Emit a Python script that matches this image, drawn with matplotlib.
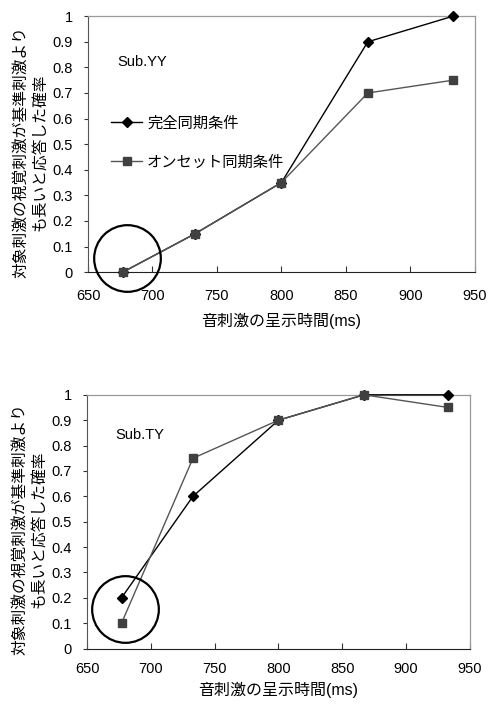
import matplotlib
matplotlib.use("Agg")
import matplotlib.pyplot as plt

plt.rcParams['font.family'] = ['Liberation Sans', 'Noto Sans CJK JP', 'DejaVu Sans']

# stimulus duration (ms)
durations = [677, 733, 800, 867, 933]

# Sub.YY
yy_full = [0.0, 0.15, 0.35, 0.9, 1.0]
yy_onset = [0.0, 0.15, 0.35, 0.7, 0.75]

# Sub.TY
ty_full = [0.2, 0.6, 0.9, 1.0, 1.0]
ty_onset = [0.1, 0.75, 0.9, 1.0, 0.95]

labels = ["完全同期条件", "オンセット同期条件"]
subjects = ["Sub.YY", "Sub.TY"]
subject_pos = [(0.077, 0.82), (0.075, 0.843)]
circle_centers = [(680, 0.055), (680, 0.157)]

xticks = [650, 700, 750, 800, 850, 900, 950]
yticks = [0, 0.1, 0.2, 0.3, 0.4, 0.5, 0.6, 0.7, 0.8, 0.9, 1]
xlab = "音刺激の呈示時間(ms)"
ylab = "対象刺激の視覚刺激が基準刺激より\nも長いと応答した確率"

fig = plt.figure(figsize=(4.89, 7.05), dpi=100)
ax1 = fig.add_axes([0.180, 0.614, 0.791, 0.363])
ax2 = fig.add_axes([0.178, 0.080, 0.783, 0.360])

data = [(ax1, yy_full, yy_onset), (ax2, ty_full, ty_onset)]
for i, (ax, full, onset) in enumerate(data):
    ax.plot(durations, full, color="black", lw=1.0, marker="D", ms=5,
            mfc="black", mec="black", label=labels[0], clip_on=False, zorder=3)
    ax.plot(durations, onset, color="#555555", lw=1.0, marker="s", ms=5.5,
            mfc="#404040", mec="#404040", label=labels[1], clip_on=False, zorder=4)
    ax.plot(*circle_centers[i], marker="o", ms=48, mfc="none", mec="black",
            mew=1.6, clip_on=False, zorder=5)

    ax.set_xlim(650, 950)
    ax.set_ylim(0, 1)
    ax.set_xticks(xticks)
    ax.set_xticklabels([str(v) for v in xticks])
    ax.set_yticks(yticks)
    ax.set_yticklabels(["0" if v == 0 else ("1" if v == 1 else f"{v:.1f}") for v in yticks])
    ax.tick_params(axis="x", direction="in", length=4, width=0.8, pad=12 if i == 0 else 10,
                   labelsize=10.5, color="#333333")
    ax.tick_params(axis="y", direction="out", length=3, width=0.8, pad=8,
                   labelsize=10.5, color="#333333")
    for s in ["top", "right"]:
        ax.spines[s].set_color("#999999")
        ax.spines[s].set_linewidth(0.9)
    ax.spines["left"].set_color("#555555")
    ax.spines["bottom"].set_color("#222222")
    ax.set_xlabel(xlab, fontsize=11.5, labelpad=7 if i == 0 else 4)
    ax.set_ylabel(ylab, fontsize=11.3, labelpad=4, linespacing=1.3, y=0.47)
    ax.text(*subject_pos[i], subjects[i], transform=ax.transAxes, fontsize=10.5,
            ha="left", va="center")

ax1.legend(loc="upper left", bbox_to_anchor=(0.06, 0.61), frameon=False,
           fontsize=11, handlelength=2.0, handletextpad=0.35,
           labelspacing=1.63, borderpad=0, borderaxespad=0)

fig.savefig("out.png", dpi=100)
